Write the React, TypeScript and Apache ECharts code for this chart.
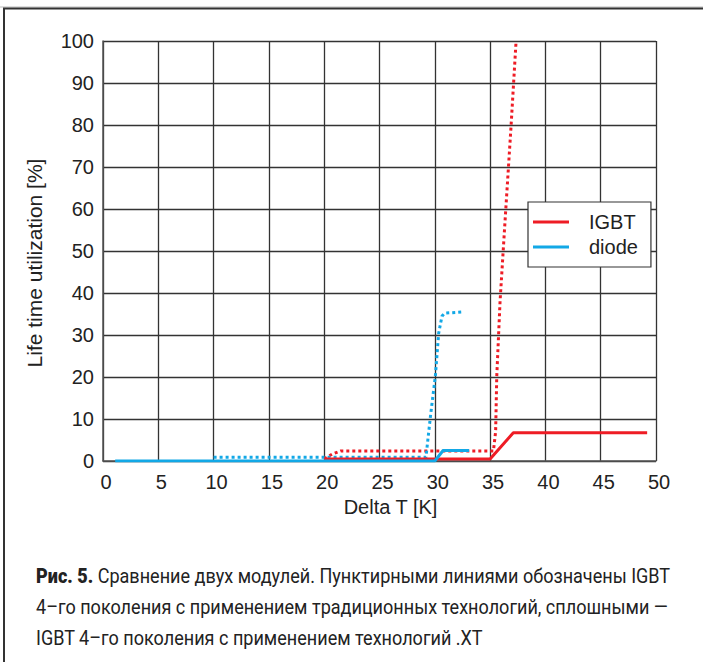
import React, { useEffect, useRef } from "react";
import * as echarts from "echarts";

// Data (x = Delta T [K], y = life time utilization [%])
const igbtXT: [number, number][] = [
  [20, 0.5], [35, 0.5], [37.1, 6.7], [49.2, 6.7],
];
const igbtStd: [number, number][] = [
  [20, 0.5], [20.7, 1.6], [21.5, 2.4], [35.3, 2.4], [35.5, 7], [35.6, 20],
  [35.9, 38], [36.3, 55], [36.9, 80], [37.35, 100],
];
const diodeXT: [number, number][] = [
  [1.1, 0], [30, 0], [30.75, 2.5], [33.1, 2.5],
];
const diodeStd: [number, number][] = [
  [10, 0.9], [29.2, 0.9], [29.6, 10.5], [30.05, 20.2], [30.35, 30.4],
  [30.65, 34.5], [30.9, 35.2], [32.6, 35.5],
];
const legendNames = ["IGBT", "diode"];
const xTitle = "Delta T [K]";
const yTitle = "Life time utilization [%]";
const captionLines = [
  "{b|Рис. 5.} Сравнение двух модулей. Пунктирными линиями обозначены IGBT",
  "4–го поколения с применением традиционных технологий, сплошными —",
  "IGBT 4–го поколения с применением технологий .XT",
];

const RED = "#ee1c25";
const BLUE = "#12a8e6";
const FONT = "'Liberation Sans', Arial, sans-serif";
const CAP_FONT = "Roboto, 'Liberation Sans', sans-serif";

export default function App() {
  const ref = useRef<HTMLDivElement>(null);
  useEffect(() => {
    if (!ref.current) return;
    const chart = echarts.init(ref.current, undefined, { renderer: "svg" });
    const captionScale = 0.86;
    chart.setOption({
      animation: false,
      backgroundColor: "#fff",
      grid: { left: 103, right: 47, top: 41, bottom: 201, containLabel: false },
      xAxis: {
        type: "value", min: 0, max: 50, interval: 5,
        name: xTitle, nameLocation: "middle", nameGap: 32,
        nameTextStyle: { fontFamily: FONT, fontSize: 20, color: "#222", padding: [0, 0, 0, 22] },
        axisLine: { show: true, lineStyle: { color: "#555", width: 1.5 } },
        axisTick: { show: false },
        axisLabel: { fontFamily: FONT, fontSize: 20, color: "#222", margin: 11, padding: [0, 0, 0, 6] },
        splitLine: { show: true, lineStyle: { color: "#333", width: 1.3 } },
      },
      yAxis: {
        type: "value", min: 0, max: 100, interval: 10,
        name: yTitle, nameLocation: "middle", nameGap: 58,
        nameTextStyle: { fontFamily: FONT, fontSize: 21, color: "#222", padding: [0, 24, 0, 0] },
        axisLine: { show: true, lineStyle: { color: "#555", width: 1.5 } },
        axisTick: { show: false },
        axisLabel: { fontFamily: FONT, fontSize: 20, color: "#222", margin: 9, padding: [8, 0, 0, 0] },
        splitLine: { show: true, lineStyle: { color: "#333", width: 1.3 } },
      },
      legend: {
        data: legendNames,
        orient: "vertical",
        left: 528, top: 202,
        backgroundColor: "#fff",
        borderColor: "#333", borderWidth: 1.2,
        padding: [10, 13, 10, 5],
        itemWidth: 36, itemHeight: 3, itemGap: 5,
        icon: "rect",
        textStyle: { fontFamily: FONT, fontSize: 20, color: "#222", padding: [0, 0, 0, 15] },
        selectedMode: false,
      },
      series: [
        { name: "IGBT", type: "line", data: igbtXT, color: RED, symbol: "none",
          lineStyle: { color: RED, width: 3 }, z: 4 },
        { name: "diode", type: "line", data: diodeXT, color: BLUE, symbol: "none",
          lineStyle: { color: BLUE, width: 3 }, z: 5 },
        { name: "IGBT", type: "line", data: igbtStd, color: RED, symbol: "none",
          lineStyle: { color: RED, width: 3, type: [3, 3] }, z: 3 },
        { name: "diode", type: "line", data: diodeStd, color: BLUE, symbol: "none",
          lineStyle: { color: BLUE, width: 3, type: [3, 3] }, z: 3 },
      ],
      graphic: [
        { type: "line", shape: { x1: 0, y1: 7, x2: 703, y2: 7 }, style: { stroke: "#bbb", lineWidth: 1 }, silent: true },
        { type: "rect", shape: { x: 4, y: 8.5, width: 760, height: 700 },
          style: { fill: "none", stroke: "#333", lineWidth: 2 }, silent: true },
        ...captionLines.map((t, i) => ({
          type: "text",
          x: 36, y: 576 + i * 31,
          scaleX: captionScale,
          style: {
            text: t,
            fontFamily: CAP_FONT,
            fontSize: 21,
            fill: "#222",
            verticalAlign: "middle",
            align: "left",
            rich: { b: { fontWeight: 900, fontFamily: CAP_FONT, fontSize: 21, fill: "#222" } },
          },
          silent: true,
        })),
      ],
    });
    return () => chart.dispose();
  }, []);
  return (
    <div
      ref={ref}
      style={{ position: "absolute", left: 0, top: 0, width: 703, height: 662 }}
    />
  );
}
